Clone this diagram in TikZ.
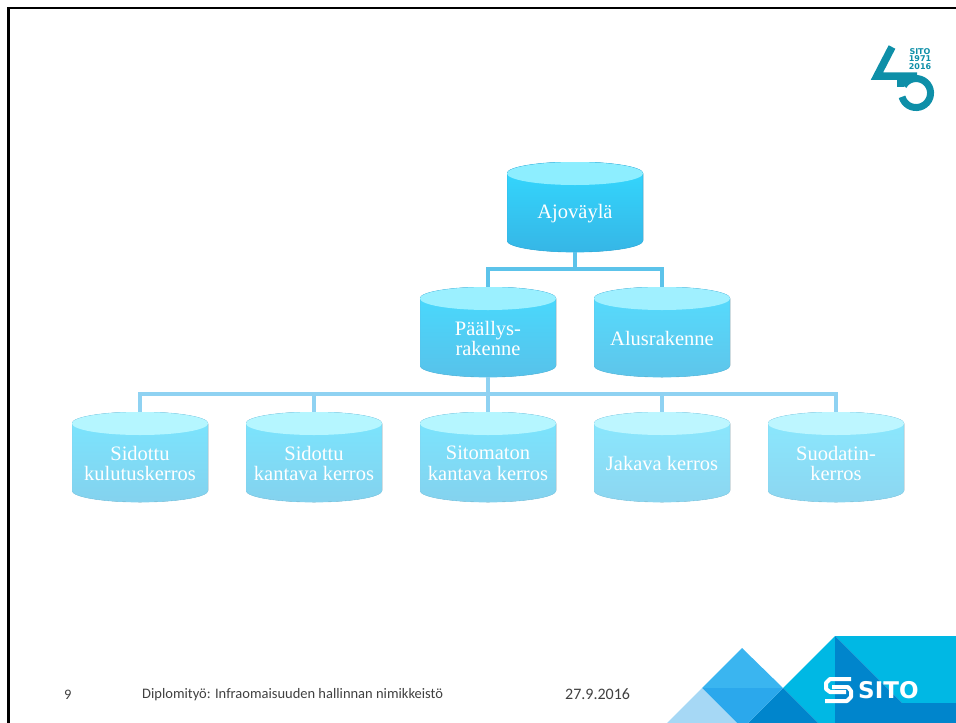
\documentclass[tikz,border=0pt]{standalone}
\usepackage{fontspec}
\setmainfont{Liberation Serif}
\newfontfamily\footfont{Carlito}
\newfontfamily\logofont{DejaVu Sans}
\usepackage{tikz}

\definecolor{linkdark}{HTML}{5CC3EA}
\definecolor{linklight}{HTML}{8FD2F2}
\definecolor{logoteal}{HTML}{0E8FA8}
\definecolor{sitocyan}{HTML}{00B8E4}
\definecolor{sitodark}{HTML}{0085CC}
\definecolor{sitomid}{HTML}{3AB5F0}
\definecolor{sitomidlow}{HTML}{2BA8EC}
\definecolor{sitopale}{HTML}{A6D8F5}
\definecolor{lidone}{HTML}{8DEEFF}
\definecolor{topone}{HTML}{33D9FF}
\definecolor{lowone}{HTML}{36B6E6}
\definecolor{lidtwo}{HTML}{9BF0FF}
\definecolor{toptwo}{HTML}{47DBFF}
\definecolor{lowtwo}{HTML}{58C2EA}
\definecolor{lidthree}{HTML}{A0F0FF}
\definecolor{topthree}{HTML}{55DDFF}
\definecolor{lowthree}{HTML}{5EC5EA}
\definecolor{lidfour}{HTML}{B5F6FF}
\definecolor{topfour}{HTML}{7AE6FF}
\definecolor{lowfour}{HTML}{84D2EE}
\definecolor{lidfive}{HTML}{BDF6FF}
\definecolor{topfive}{HTML}{8AE9FF}
\definecolor{lowfive}{HTML}{8CD6F0}

\newcommand{\barreltext}[1]{\raisebox{-11.5pt}[0pt][0pt]{\makebox[0pt]{\parbox[c]{134pt}{\centering #1}}}}

\tikzset{
    barrel/.style={rectangle, minimum width=136pt, minimum height=90pt, inner sep=0pt,
        text=white, font=\fontsize{20.5}{20.5}\selectfont,
        path picture={
            \fill[top color=top#1, bottom color=low#1, draw=low#1, line width=0.7pt] ([yshift=-11.5pt]path picture bounding box.north west)--([yshift=11.5pt]path picture bounding box.south west) arc [start angle=180, end angle=360, x radius=68pt, y radius=11.5pt]--([yshift=-11.5pt]path picture bounding box.north east) arc [start angle=0, end angle=180, x radius=68pt, y radius=11.5pt]--cycle;
            \fill[lid#1] ([yshift=-11.5pt]path picture bounding box.north) ellipse [x radius=68pt, y radius=11.5pt];
        }},
    linkline/.style={line width=3.2pt, #1},
    foottext/.style={anchor=west, inner sep=0pt, font=\footfont\fontsize{14.5}{16}\selectfont, text=black!75}
}

\begin{document}
\begin{tikzpicture}[x=1pt, y=-1pt]
    \useasboundingbox (0,0) rectangle (956,723);
    \draw[line width=2.5pt] (8.5,723)--(8.5,8)--(956,8);

    \node[barrel=one] (ajovayla) at (575,207) {\barreltext{Ajoväylä}};
    \node[barrel=two] (paallys) at (488,332) {\barreltext{Päällys-\\rakenne}};
    \node[barrel=three] (alus) at (662,332) {\barreltext{Alusrakenne}};
    \node[barrel=four] (kulutus) at (140,457) {\barreltext{Sidottu\\kulutuskerros}};
    \node[barrel=four] (sidkantava) at (314,457) {\barreltext{Sidottu\\kantava kerros}};
    \node[barrel=four] (sitkantava) at (488,457) {\barreltext{Sitomaton\\kantava kerros}};
    \node[barrel=five] (jakava) at (662,457) {\barreltext{Jakava kerros}};
    \node[barrel=five] (suodatin) at (836,457) {\barreltext{Suodatin-\\kerros}};

    \coordinate (topbus) at (575,269);
    \coordinate (lowbus) at (488,394);
    \draw[linkline=linkdark] (ajovayla.south)--(topbus);
    \draw[linkline=linkdark] (paallys.north)|-(topbus)-|(alus.north);
    \draw[linkline=linklight] (paallys.south)--(lowbus);
    \draw[linkline=linklight] (kulutus.north)|-(lowbus)-|(suodatin.north);
    \draw[linkline=linklight] (sidkantava.north)--(sidkantava.north|-lowbus);
    \draw[linkline=linklight] (sitkantava.north)--(lowbus);
    \draw[linkline=linklight] (jakava.north)--(jakava.north|-lowbus);

    % anniversary logo
    \draw[logoteal, line width=7.5pt] (892,47)--(877,76)--(917,76);
    \draw[logoteal, line width=7pt] (900,76)--(900,87);
    \draw[logoteal, line width=7pt] (903.5,85.8) arc [start angle=-150, end angle=165, radius=14.5];
    \node[inner sep=0pt, align=center, text=logoteal, font=\logofont\bfseries\fontsize{8}{7.6}\selectfont] (logoyears) at (920,59) {SITO\\1971\\2016};

    % corner graphic
    \fill[sitocyan] (835,636)--(956,636)--(956,703)--(902,703)--cycle;
    \fill[sitocyan] (835,636)--(783,688)--(818,723)--(835,723)--cycle;
    \fill[sitodark] (835,636)--(902,703)--(956,703)--(956,723)--(835,723)--cycle;
    \fill[sitodark] (783,688)--(748,723)--(818,723)--cycle;
    \fill[sitomid] (702,688)--(742,648)--(783,688)--cycle;
    \fill[sitomidlow] (702,688)--(783,688)--(748,723)--(737,723)--cycle;
    \fill[sitopale] (702,688)--(667,723)--(737,723)--cycle;
    \draw[white, line width=4pt, line join=round] (851,679)--(830,679)--(826,683)--(826,689)--(830,692)--(846,692);
    \draw[white, line width=4pt, line join=round] (825,701)--(847,701)--(851,697)--(851,691)--(848,687)--(832,687);
    \node[inner sep=0pt, anchor=west, text=white, font=\logofont\bfseries\fontsize{23}{24}\selectfont] (sitoname) at (858,690) {SITO};

    \node[foottext] (pagenum) at (64,694.5) {9};
    \node[foottext] (foottitle) at (142,694.5) {Diplomityö: Infraomaisuuden hallinnan nimikkeistö};
    \node[foottext, font=\footfont\fontsize{16}{18}\selectfont] (footdate) at (565,694) {27.9.2016};
\end{tikzpicture}
\end{document}
